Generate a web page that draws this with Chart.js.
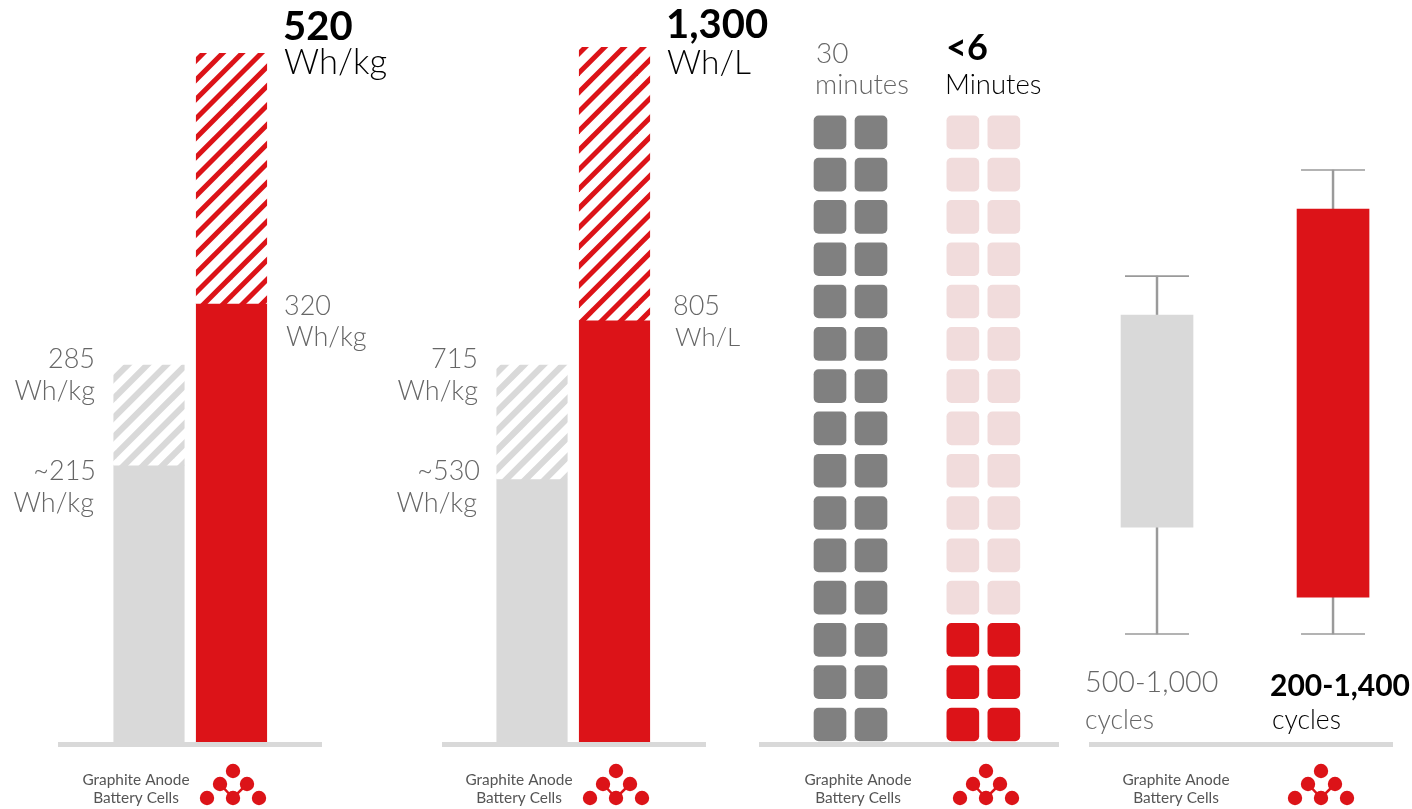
<!DOCTYPE html>
<html><head><meta charset="utf-8">
<script src="https://cdn.jsdelivr.net/npm/chart.js@4"></script>
<style>
html,body{margin:0;padding:0;background:#fff;width:1412px;height:809px;overflow:hidden}
canvas{position:absolute;left:0;top:0}
</style></head><body>
<canvas id="c1"></canvas><canvas id="c2"></canvas><canvas id="c3"></canvas><canvas id="c4"></canvas>
<script>
// ---- data (bars in the reference are not drawn to the scale of their labels:
// values are read off each bar, on an axis anchored at the panel's largest label)
const cellTypes = ['Graphite Anode Battery Cells', 'QuantumScape'];
const gravimetricSolid = [209, 331];
const gravimetricPotential = [284.5, 520];
const volumetricSolid = [492, 789];
const volumetricPotential = [705, 1300];
const chargeMinutesTotal = 30;
const chargeMinutesFast = 6;
const cycleBoxLow = [416, 200];
const cycleBoxHigh = [1072, 1400];
const cycleWhiskerLow = [86, 86];
const cycleWhiskerHigh = [1193, 1521];

const RED='#dc1318', GREY='#d9d9d9', DARK='#808080', PALE='#f1dcdc', TXT='#666666', LINE='#9a9a9a', BLACK='#000000';
const F='Lato';
// [text, x, baseline, size, weight, colour, align]
const labels1=[['520',283,40,40,700,BLACK,'left'],['Wh/kg',284,74,34.5,300,BLACK,'left'],
 ['320',284,315,27,300,TXT,'left'],['Wh/kg',286,346,27,300,TXT,'left'],
 ['285',95,368,27,300,TXT,'right'],['Wh/kg',95,400,27,300,TXT,'right'],
 ['~215',96,480,27,300,TXT,'right'],['Wh/kg',94,512,27,300,TXT,'right']];
const labels2=[['1,300',666,38,40,700,BLACK,'left'],['Wh/L',667,74,33.5,300,BLACK,'left'],
 ['805',673,315,27,300,TXT,'left'],['Wh/L',675,346,26,300,TXT,'left'],
 ['715',478,368,27,300,TXT,'right'],['Wh/kg',478,400,27,300,TXT,'right'],
 ['~530',480,480,27,300,TXT,'right'],['Wh/kg',477,512,27,300,TXT,'right']];
const labels3=[['30',816,63,28,300,TXT,'left'],['minutes',815,94,27.5,300,TXT,'left'],
 ['<6',946,60,36,700,BLACK,'left'],['Minutes',945,94,27.5,300,BLACK,'left']];
const labels4=[['500-1,000',1085,692,28.7,300,TXT,'left'],['cycles',1085,729,26.5,300,TXT,'left'],
 ['200-1,400',1270,696,30,700,BLACK,'left'],['cycles',1272,729,26.5,300,BLACK,'left']];

function hatch(color,width,shift){
  const P=58,c=document.createElement('canvas');c.width=c.height=P;
  const g=c.getContext('2d');g.fillStyle='#fff';g.fillRect(0,0,P,P);
  g.strokeStyle=color;g.lineWidth=width;
  const s=P/3;
  for(let i=-8;i<=8;i++){g.beginPath();g.moveTo(i*s-2*s+shift,P+2*s);g.lineTo(i*s+P+2*s+shift,-2*s);g.stroke();}
  return document.createElement('canvas').getContext('2d').createPattern(c,'repeat');
}
function panelText(labels,captionX,logoX){
  return {id:'panelText',afterDraw(ch){
    const x=ch.ctx;x.save();x.textBaseline='alphabetic';
    labels.forEach(([t,px,py,s,w,c,a])=>{x.font=w+' '+s+'px '+F+', sans-serif';x.fillStyle=c;x.textAlign=a;x.fillText(t,px,py);});
    x.font='400 15.4px '+F+', sans-serif';x.fillStyle='#555';x.textAlign='center';
    const cap=cellTypes[0].split(' ');
    x.fillText(cap[0]+' '+cap[1],captionX,785);x.fillText(cap[2]+' '+cap[3],captionX,803);
    const d=[[0,771],[-13,784],[14,784],[-26,798],[0,798],[26,798]];
    x.strokeStyle=RED;x.lineWidth=2.5;x.beginPath();
    x.moveTo(logoX-13,784);x.lineTo(logoX,798);x.lineTo(logoX+14,784);x.stroke();
    x.fillStyle=RED;d.forEach(([a,b])=>{x.beginPath();x.arc(logoX+a,b,7.2,0,Math.PI*2);x.fill();});
    x.restore();
  }};
}
function xAxis(min,max){return {type:'linear',min,max,offset:false,display:true,afterFit:s=>{s.height=0;},
  ticks:{display:false},grid:{display:false,offset:false},border:{display:true,color:GREY,width:5,z:1}};}
function yAxis(min,max){return {type:'linear',min,max,display:false};}
function opts(left,right,top,xa,ya){return {responsive:false,animation:false,
  layout:{autoPadding:false,padding:{left,right:1412-right,top,bottom:809-744.5}},
  plugins:{legend:{display:false},tooltip:{enabled:false},title:{display:false}},
  scales:{x:xa,y:ya}};}
function mk(id,cfg){const c=document.getElementById(id);c.width=1412;c.height=809;return new Chart(c,cfg);}
const pts=a=>a.map((v,i)=>({x:i,y:v}));

function energyPanel(id,solid,pot,hatches,left,right,xMin,xMax,top,yMin,yMax,labels,capX,logoX){
  mk(id,{type:'bar',data:{datasets:[
    {label:'Potential',data:pot.map((v,i)=>({x:i,y:[solid[i],v]})),backgroundColor:hatches,barThickness:70.5,grouped:false},
    {label:'Today',data:pts(solid),backgroundColor:[GREY,RED],barThickness:70.5,grouped:false}
  ]},options:opts(left,right,top,xAxis(xMin,xMax),yAxis(yMin,yMax)),plugins:[panelText(labels,capX,logoX)]});
}
energyPanel('c1',gravimetricSolid,gravimetricPotential,[hatch(GREY,6.2,9.4),hatch(RED,5,5.2)],60,321,-1.079,2.085,53,-1.9,520,labels1,136,233);
energyPanel('c2',volumetricSolid,volumetricPotential,[hatch(GREY,6.2,19),hatch(RED,5,13.8)],444,705,-1.067,2.097,47,-4.7,1300,labels2,519,616);

// charge-time grid: one rounded square per minute, two per row
const cols=[0,1,3.24,4.24], rowH=0.78, rows=chargeMinutesTotal/2;
const gridSets=[];
for(let r=0;r<rows;r++){
  const fast=r<chargeMinutesFast/2;
  gridSets.push({data:cols.map(c=>({x:c,y:[r,r+rowH]})),
    backgroundColor:[DARK,DARK,fast?RED:PALE,fast?RED:PALE],
    barThickness:32,grouped:false,borderRadius:5,borderSkipped:false});
}
mk('c3',{type:'bar',data:{datasets:gridSets},
  options:opts(761,1058,100,xAxis(-1.683,5.561),yAxis(-0.083,15.154)),plugins:[panelText(labels3,858,986)]});

// cycle-life box plot
const xs=[0,1];
mk('c4',{type:'bar',data:{datasets:[
  {label:'Range',data:xs.map(i=>({x:i,y:[cycleBoxLow[i],cycleBoxHigh[i]]})),backgroundColor:[GREY,RED],barThickness:72,grouped:false,order:1},
  {label:'Whisker',data:xs.map(i=>({x:i,y:[cycleWhiskerLow[i],cycleWhiskerHigh[i]]})),backgroundColor:LINE,barThickness:1.8,grouped:false,order:3},
  {type:'scatter',label:'Low cap',data:pts(cycleWhiskerLow),pointStyle:'line',pointRadius:32,pointBorderColor:LINE,pointBorderWidth:1.6,order:2},
  {type:'scatter',label:'High cap',data:pts(cycleWhiskerHigh),pointStyle:'line',pointRadius:32,pointBorderColor:LINE,pointBorderWidth:1.6,order:2}
]},options:opts(1091,1392,150,xAxis(-0.375,1.335),yAxis(-256,1583)),plugins:[panelText(labels4,1176,1321)]});
</script></body></html>
